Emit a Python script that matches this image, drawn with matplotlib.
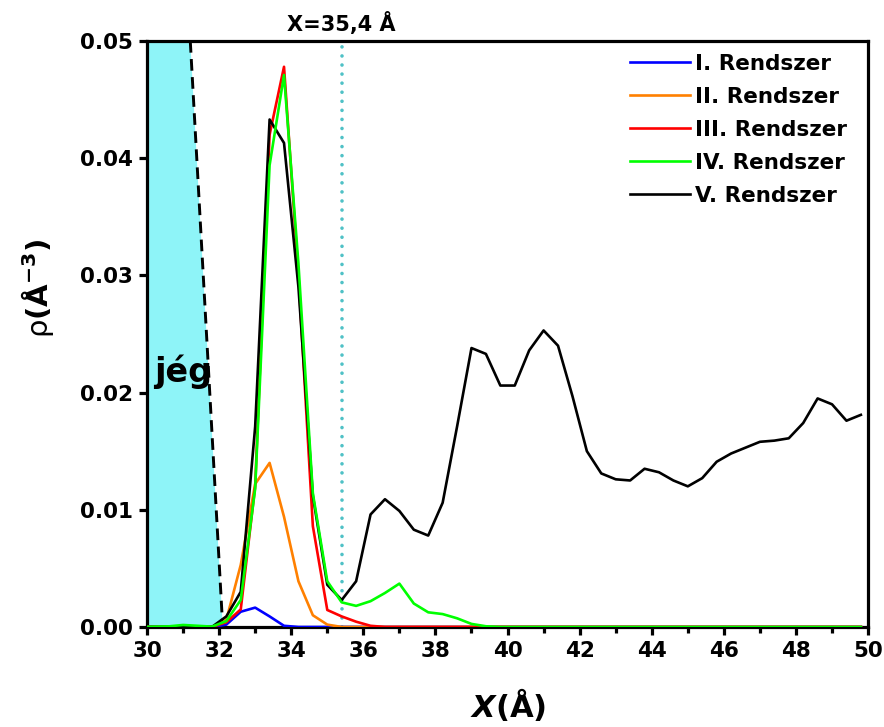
import matplotlib
matplotlib.use("Agg")
import matplotlib.pyplot as plt

plt.rcParams['font.family'] = ['DejaVu Sans']
plt.rcParams['mathtext.fontset'] = 'custom'
plt.rcParams['mathtext.rm'] = 'DejaVu Sans:bold'
plt.rcParams['mathtext.it'] = 'DejaVu Sans:italic:bold'
plt.rcParams['mathtext.bf'] = 'DejaVu Sans:bold'
plt.rcParams['mathtext.sf'] = 'DejaVu Sans'

# ---------------- data ----------------
x = [29.8, 30.2, 30.6, 31.0, 31.4, 31.8, 32.2, 32.6, 33.0, 33.4, 33.8, 34.2, 34.6,
     35.0, 35.4, 35.8, 36.2, 36.6, 37.0, 37.4, 37.8, 38.2, 38.6, 39.0, 39.4, 39.8,
     40.2, 40.6, 41.0, 41.4, 41.8, 42.2, 42.6, 43.0, 43.4, 43.8, 44.2, 44.6, 45.0,
     45.4, 45.8, 46.2, 46.6, 47.0, 47.4, 47.8, 48.2, 48.6, 49.0, 49.4, 49.8]

rho_I = [0.0, 0.0, 0.0, 0.0, 0.0, 0.0, 0.0002, 0.0013, 0.00165, 0.0009, 0.0001, 0.0, 0.0,
         0.0, 0.0, 0.0, 0.0, 0.0, 0.0, 0.0, 0.0, 0.0, 0.0, 0.0, 0.0, 0.0,
         0.0, 0.0, 0.0, 0.0, 0.0, 0.0, 0.0, 0.0, 0.0, 0.0, 0.0, 0.0, 0.0,
         0.0, 0.0, 0.0, 0.0, 0.0, 0.0, 0.0, 0.0, 0.0, 0.0, 0.0, 0.0]

rho_II = [0.0, 0.0, 0.0, 0.0, 0.0, 0.0, 0.0006, 0.0053, 0.0122, 0.0140, 0.0094, 0.0039, 0.0010,
          0.0002, 0.0, 0.0, 0.0, 0.0, 0.0, 0.0, 0.0, 0.0, 0.0, 0.0, 0.0, 0.0,
          0.0, 0.0, 0.0, 0.0, 0.0, 0.0, 0.0, 0.0, 0.0, 0.0, 0.0, 0.0, 0.0,
          0.0, 0.0, 0.0, 0.0, 0.0, 0.0, 0.0, 0.0, 0.0, 0.0, 0.0, 0.0]

rho_III = [0.0, 0.0, 0.0, 0.0, 0.0, 0.0, 0.0004, 0.0015, 0.0120, 0.0420, 0.0478, 0.0300, 0.0086,
           0.00145, 0.0009, 0.00045, 0.0001, 0.0, 0.0, 0.0, 0.0, 0.0, 0.0, 0.0, 0.0, 0.0,
           0.0, 0.0, 0.0, 0.0, 0.0, 0.0, 0.0, 0.0, 0.0, 0.0, 0.0, 0.0, 0.0,
           0.0, 0.0, 0.0, 0.0, 0.0, 0.0, 0.0, 0.0, 0.0, 0.0, 0.0, 0.0]

rho_IV = [0.0, 0.00003, 0.00005, 0.00017, 0.0001, 0.00003, 0.0005, 0.0023, 0.0118, 0.0394, 0.0471, 0.0310, 0.0114,
          0.0039, 0.0021, 0.0018, 0.0022, 0.0029, 0.0037, 0.0020, 0.00125, 0.0011, 0.00074, 0.00026, 0.00006, 0.0,
          0.0, 0.0, 0.0, 0.0, 0.0, 0.0, 0.0, 0.0, 0.0, 0.0, 0.0, 0.0, 0.0,
          0.0, 0.0, 0.0, 0.0, 0.0, 0.0, 0.0, 0.0, 0.0, 0.0, 0.0, 0.0]

rho_V = [0.0, 0.0, 0.0, 0.0, 0.0, 0.0, 0.0009, 0.0030, 0.0171, 0.0433, 0.0413, 0.0290, 0.0112,
         0.0036, 0.0023, 0.0039, 0.0096, 0.0109, 0.0099, 0.0083, 0.0078, 0.0106, 0.0171, 0.0238, 0.0233, 0.0206,
         0.0206, 0.0236, 0.0253, 0.0240, 0.0197, 0.0150, 0.0131, 0.0126, 0.0125, 0.0135, 0.0132, 0.0125, 0.0120,
         0.0127, 0.0141, 0.0148, 0.0153, 0.0158, 0.0159, 0.0161, 0.0174, 0.0195, 0.0190, 0.0176, 0.0181]

labels = ["I. Rendszer", "II. Rendszer", "III. Rendszer", "IV. Rendszer", "V. Rendszer"]
colors = ["#0000FF", "#FF8000", "#FF0000", "#00FF00", "#000000"]

# ice region boundary (x, rho)
ice_x = [30.0, 30.0, 31.2, 32.1]
ice_y = [0.0, 0.05, 0.05, 0.0]
ice_edge_x = [31.2, 32.1]
ice_edge_y = [0.05, 0.0]
ice_label = "jég"
ice_label_pos = (30.2, 0.0218)

interface_x = 35.4
interface_label = "X=35,4 Å"

# ---------------- plot ----------------
fig = plt.figure(figsize=(8.84, 7.27), dpi=100)
ax = fig.add_axes([0.1663, 0.1376, 0.8157, 0.806])

ax.fill(ice_x, ice_y, color="#8EF4F8", zorder=1, linewidth=0)
ax.plot(ice_edge_x, ice_edge_y, color="black", linestyle=(0, (4, 2.2)), linewidth=2.1, zorder=2)
ax.text(ice_label_pos[0], ice_label_pos[1], ice_label, fontsize=24, fontweight="bold",
        ha="left", va="center", zorder=4)

ax.axvline(interface_x, color="#4FC1C6", linestyle=(0, (0.01, 2.5)), linewidth=2.6,
           dash_capstyle="round", zorder=2)
ax.text(interface_x, 0.0505, interface_label, fontsize=15, fontweight="bold",
        ha="center", va="bottom")

series = [rho_I, rho_II, rho_III, rho_IV, rho_V]
handles = []
for i in [0, 1, 2, 4, 3]:
    h, = ax.plot(x, series[i], color=colors[i], linewidth=1.9, label=labels[i], zorder=3)
    handles.append((i, h))
handles = [h for i, h in sorted(handles)]

ax.set_xlim(30, 50)
ax.set_ylim(0, 0.05)
ax.set_xticks([30, 32, 34, 36, 38, 40, 42, 44, 46, 48, 50])
ax.set_xticks([31, 33, 35, 37, 39, 41, 43, 45, 47, 49], minor=True)
ax.set_yticks([0.0, 0.01, 0.02, 0.03, 0.04, 0.05])
ax.set_yticklabels(["0.00", "0.01", "0.02", "0.03", "0.04", "0.05"])

for s in ax.spines.values():
    s.set_linewidth(2.3)
ax.tick_params(axis="both", which="major", direction="out", length=6, width=2.3,
               labelsize=15.5, pad=4)
ax.tick_params(axis="x", which="minor", direction="out", length=4, width=2.3)
for lab in ax.get_xticklabels() + ax.get_yticklabels():
    lab.set_fontweight("bold")

ax.set_xlabel(r"$\mathit{X}$(Å)", fontsize=22, fontweight="bold", labelpad=18)
ax.set_ylabel(r"$\mathsf{ρ}$(Å$^{\mathbf{-3}}$)", fontsize=21, fontweight="bold")
ax.yaxis.set_label_coords(-0.126, 0.578)

leg = ax.legend(handles=handles, loc="upper left", bbox_to_anchor=(0.652, 1.0),
                frameon=False, handlelength=2.8, handletextpad=0.2, labelspacing=0.6,
                borderaxespad=0.2, prop={"size": 15.5, "weight": "bold"})

fig.savefig("out.png", dpi=100)
